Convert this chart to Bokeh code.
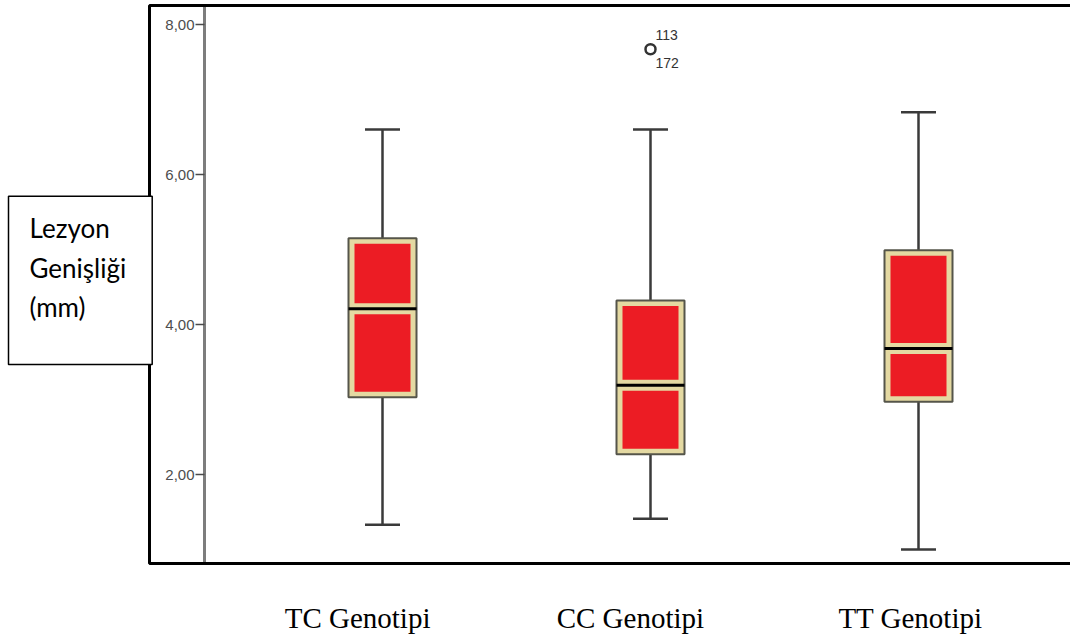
from bokeh.plotting import figure
from bokeh.models import LinearAxis, FixedTicker, Label, Range1d, BoxAnnotation
from bokeh.core.properties import value
from bokeh.embed import file_html
from bokeh.resources import INLINE

# ---- data ----
categories = ["TC Genotipi", "CC Genotipi", "TT Genotipi"]
lower_whisker = [1.33, 1.41, 1.00]
q1 = [3.03, 2.27, 2.97]
median = [4.21, 3.19, 3.68]
q3 = [5.15, 4.32, 4.99]
upper_whisker = [6.60, 6.60, 6.83]
outlier_group = [2]
outlier_value = [7.67]
outlier_id_upper = ["113"]
outlier_id_lower = ["172"]
y_ticks = [2, 4, 6, 8]
y_tick_labels = ["2,00", "4,00", "6,00", "8,00"]
y_label_lines = ["Lezyon", "Genişliği", "(mm)"]

# ---- layout ----
W, H = 1070, 640
MBB = 74
frame_w = W
frame_h = H - MBB
PXU_X, PXU_Y = 268.0, 75.0
x0 = 1 - 382 / PXU_X
x1 = x0 + frame_w / PXU_X
y1 = 624 / PXU_Y
y0 = y1 - frame_h / PXU_Y
pxx = 1 / PXU_X
pxy = 1 / PXU_Y

# outer box in data coordinates
box_left = 1 - (382 - 149) / PXU_X
box_bottom = (624 - 563) / PXU_Y
box_top = (624 - 5) / PXU_Y
axis_x = 1 - (382 - 204) / PXU_X

xs = list(range(1, len(categories) + 1))
label_pos = [0.907, 1.925, 2.970]

p = figure(width=W, height=H, output_backend="svg", toolbar_location=None,
           x_range=Range1d(x0, x1), y_range=Range1d(y0, y1),
           y_axis_location=None, min_border_left=0, min_border_right=0,
           min_border_top=0, min_border_bottom=MBB)
p.outline_line_color = None
p.xgrid.visible = False
p.ygrid.visible = False
p.background_fill_color = "white"
p.border_fill_color = "white"

# outer frame (right side runs off the picture)
p.add_layout(BoxAnnotation(left=box_left, right=x1 + 2, bottom=box_bottom, top=box_top,
                           fill_alpha=0, line_color="black", line_alpha=1.0, line_width=3))

# y axis inside the frame
yax = LinearAxis(fixed_location=axis_x, ticker=FixedTicker(ticks=y_ticks),
                 major_label_overrides=dict(zip(y_ticks, y_tick_labels)),
                 bounds=(box_bottom, box_top))
yax.axis_line_color = "#7d7d7d"
yax.axis_line_width = 3
yax.major_tick_out = 9
yax.major_tick_in = 0
yax.major_tick_line_color = "#4a4a4a"
yax.major_tick_line_width = 1.5
yax.minor_tick_line_color = None
yax.major_label_text_font = "Liberation Sans"
yax.major_label_text_font_size = "15px"
yax.major_label_text_color = "#4d4d4d"
yax.major_label_standoff = 1
p.add_layout(yax, "left")

# x axis labels
xax = p.xaxis[0]
xax.ticker = FixedTicker(ticks=label_pos)
xax.major_label_overrides = dict(zip(label_pos, categories))
xax.axis_line_color = None
xax.major_tick_line_color = None
xax.minor_tick_line_color = None
xax.major_label_text_font = "Liberation Serif"
xax.major_label_text_font_size = "29px"
xax.major_label_text_color = "black"
xax.major_label_standoff = 29

# boxes
bw = 34 * pxx
cw = 17.5 * pxx
ix = 6 * pxx
iy = 5.5 * pxy
wc = "#3a3a3a"
p.segment(x0=xs, y0=q3, x1=xs, y1=upper_whisker, line_color=wc, line_width=2.5)
p.segment(x0=xs, y0=lower_whisker, x1=xs, y1=q1, line_color=wc, line_width=2.5)
p.segment(x0=[x - cw for x in xs], y0=upper_whisker, x1=[x + cw for x in xs], y1=upper_whisker,
          line_color=wc, line_width=2.5)
p.segment(x0=[x - cw for x in xs], y0=lower_whisker, x1=[x + cw for x in xs], y1=lower_whisker,
          line_color=wc, line_width=2.5)
p.quad(left=[x - bw for x in xs], right=[x + bw for x in xs], bottom=q1, top=q3,
       fill_color="#e4d9a2", line_color="#55554a", line_width=2)
p.quad(left=[x - bw + ix for x in xs], right=[x + bw - ix for x in xs],
       bottom=[a + iy for a in q1], top=[m - iy for m in median],
       fill_color="#ec1c24", line_color=None)
p.quad(left=[x - bw + ix for x in xs], right=[x + bw - ix for x in xs],
       bottom=[m + iy for m in median], top=[b - iy for b in q3],
       fill_color="#ec1c24", line_color=None)
p.segment(x0=[x - bw for x in xs], y0=median, x1=[x + bw for x in xs], y1=median,
          line_color="black", line_width=3)

# outliers
p.scatter(x=outlier_group, y=outlier_value, marker="circle", size=10,
          fill_color="white", line_color="#333333", line_width=2.5)
p.text(x=outlier_group, y=outlier_value, text=outlier_id_upper, x_offset=5, y_offset=-14,
       text_font=value("Liberation Sans"), text_font_size="14px", text_color="#333333",
       text_align="left", text_baseline="middle")
p.text(x=outlier_group, y=outlier_value, text=outlier_id_lower, x_offset=5, y_offset=14,
       text_font=value("Liberation Sans"), text_font_size="14px", text_color="#333333",
       text_align="left", text_baseline="middle")

# y label box
lab = Label(x=8, y=202, x_units="screen", y_units="screen",
            text="\n".join(y_label_lines), text_font="Lato", text_font_size="26px",
            text_line_height=1.24, text_color="black", text_align="left",
            anchor="bottom_left",
            border_line_color="black", border_line_width=1.5,
            background_fill_color="white",
            padding=dict(left=21, right=26, top=16, bottom=41), level="overlay")
p.add_layout(lab)

open("out.html", "w").write(file_html(p, INLINE))
